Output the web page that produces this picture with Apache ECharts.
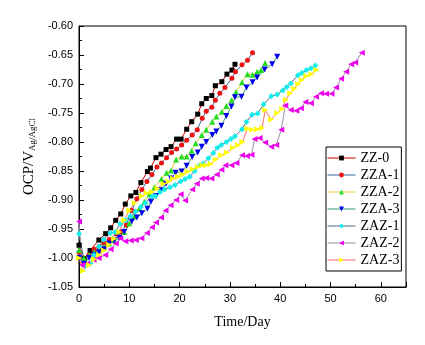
<!DOCTYPE html>
<html><head><meta charset="utf-8">
<script src="https://cdn.jsdelivr.net/npm/echarts@6/dist/echarts.min.js"></script>
<style>html,body{margin:0;padding:0;background:#fff}#c{width:425px;height:345px}</style>
</head><body><div id="c"></div>
<script>
const seriesNames = ['ZZ-0','ZZA-1','ZZA-2','ZZA-3','ZAZ-1','ZAZ-2','ZAZ-3'];
const yTicks = [-1.05,-1.00,-0.95,-0.90,-0.85,-0.80,-0.75,-0.70,-0.65,-0.60];
const xTicks = [0,10,20,30,40,50,60];

const zz0Days = [0,1.05,2.2,3.95,5.3,6.3,7.3,8.3,9.2,10.3,11.3,12.3,13.6,14.2,15.3,16.3,17.3,18.3,19.4,20.3,21.4,22.4,23.6,24.4,25.3,26.4,27.1,28.4,29.4,30.4,31.0];
const zz0Vals = [-0.978,-1.001,-0.987,-0.969,-0.958,-0.948,-0.935,-0.924,-0.907,-0.893,-0.887,-0.870,-0.851,-0.845,-0.827,-0.821,-0.813,-0.808,-0.795,-0.795,-0.778,-0.765,-0.752,-0.734,-0.725,-0.720,-0.703,-0.696,-0.683,-0.676,-0.666];

const zza1Days = [0,1,2,3,4,5,6,7.4,8.4,9.4,10.5,11.5,12.5,13.5,14.5,15.5,16.4,17.4,18.4,19.4,20.4,21.4,22.5,23.5,24.5,25.3,26.4,27.1,28,29,30.4,31.1,32.4,33.5,34.5];
const zza1Vals = [-0.990,-1.008,-0.995,-0.985,-0.980,-0.975,-0.968,-0.958,-0.955,-0.943,-0.918,-0.898,-0.882,-0.868,-0.856,-0.843,-0.836,-0.827,-0.818,-0.812,-0.805,-0.797,-0.788,-0.779,-0.759,-0.747,-0.740,-0.728,-0.716,-0.706,-0.690,-0.679,-0.667,-0.659,-0.646];

const zza2Days = [0,1,2,3,4,5,6,7,8,9,10,11,12,13,14,15,16.4,17.4,18.3,19.3,20.4,21.4,22.4,23.2,24.4,25.3,26.5,27.3,28.4,29.3,30.3,31.2,32.4,33.5,34.5,35.4,36.2,37];
const zza2Vals = [-0.986,-1.0,-0.995,-0.99,-0.985,-0.98,-0.975,-0.97,-0.963,-0.955,-0.94,-0.928,-0.915,-0.903,-0.89,-0.878,-0.864,-0.853,-0.849,-0.830,-0.825,-0.825,-0.815,-0.802,-0.788,-0.779,-0.765,-0.756,-0.748,-0.738,-0.728,-0.714,-0.697,-0.683,-0.684,-0.679,-0.676,-0.664];

const zza3Days = [0,1,2,3,4,5,6,7,8,9,10.5,11.5,12.5,13.6,14.3,15.3,16.2,17.3,18.3,19.2,20.4,21.4,22.5,23.6,24.4,25.3,26.5,27.3,28.3,29.3,30.3,31,32.3,33.3,34.5,35.4,36.9,38.4,39.4];
const zza3Vals = [-1.0,-1.01,-1.0,-0.995,-0.99,-0.985,-0.975,-0.97,-0.965,-0.955,-0.937,-0.93,-0.923,-0.915,-0.903,-0.893,-0.883,-0.872,-0.863,-0.853,-0.851,-0.841,-0.826,-0.818,-0.808,-0.800,-0.788,-0.782,-0.772,-0.755,-0.739,-0.723,-0.722,-0.706,-0.697,-0.689,-0.675,-0.666,-0.653];

const zaz1Days = [0,1.2,2.2,3,4,4.9,6.2,7.2,8.2,9.2,10.2,11.2,12.3,13.2,14.5,15.2,16.1,17,18.1,19.1,20.2,21.1,22,23,24,24.7,25.7,26.7,27.5,28.3,29.3,30.2,31,32.4,33.3,34.4,35.5,36.7,38.2,39.4,40.5,41.3,42.1,43.5,44.3,45.2,46.1,47];
const zaz1Vals = [-0.958,-1.014,-1.009,-0.995,-0.98,-0.968,-0.957,-0.955,-0.941,-0.935,-0.928,-0.92,-0.912,-0.905,-0.894,-0.893,-0.886,-0.882,-0.878,-0.874,-0.868,-0.864,-0.860,-0.85,-0.84,-0.837,-0.828,-0.819,-0.810,-0.805,-0.800,-0.795,-0.790,-0.778,-0.765,-0.753,-0.751,-0.735,-0.721,-0.718,-0.711,-0.705,-0.699,-0.685,-0.681,-0.676,-0.673,-0.668];

const zaz2Days = [0,0.6,1.6,2.9,3.9,5.2,6.3,7.3,8.2,9.2,10.3,11.3,12.4,13.5,14.5,15.3,16.3,17.2,18.2,19.3,20.2,21.1,22.5,23.4,24.4,25.3,26.3,27.4,28.3,29.1,30.3,31.3,32.4,33.4,34.3,34.9,35.9,37,38.2,39.2,40.2,41,42.1,43.2,44.1,45,46.1,47.1,48.1,49.1,50.2,51.1,52.1,53.1,54.1,54.9,56.2];
const zaz2Vals = [-0.937,-1.012,-1.01,-1.003,-1.0,-0.995,-0.985,-0.975,-0.966,-0.971,-0.970,-0.969,-0.966,-0.957,-0.947,-0.939,-0.930,-0.918,-0.909,-0.900,-0.890,-0.901,-0.882,-0.872,-0.863,-0.862,-0.863,-0.856,-0.848,-0.840,-0.840,-0.836,-0.823,-0.824,-0.822,-0.795,-0.793,-0.801,-0.808,-0.805,-0.779,-0.737,-0.745,-0.746,-0.742,-0.731,-0.733,-0.722,-0.716,-0.717,-0.717,-0.706,-0.691,-0.679,-0.666,-0.663,-0.646];

const zaz3Days = [0,0.8,2,3,4,5,6,7,8,9,10,11.1,12.5,13.5,14.5,15.6,16.8,17.8,18.7,19.7,20.6,21.6,22.6,23.6,24.5,25.3,26.2,27.2,28.3,29.4,30.6,31.6,32.5,33.5,34.4,35.4,36.4,37,38.2,39.4,40.4,41.1,42,42.8,43.6,44.3,45.2,46.2,47.2];
const zaz3Vals = [-1.0,-1.022,-1.012,-1.002,-0.995,-0.987,-0.977,-0.967,-0.955,-0.935,-0.918,-0.905,-0.893,-0.888,-0.886,-0.880,-0.872,-0.868,-0.863,-0.860,-0.856,-0.851,-0.847,-0.843,-0.840,-0.840,-0.838,-0.830,-0.823,-0.818,-0.810,-0.805,-0.800,-0.777,-0.779,-0.778,-0.776,-0.745,-0.761,-0.750,-0.743,-0.727,-0.716,-0.708,-0.700,-0.693,-0.686,-0.683,-0.676];

const allDays = [zz0Days,zza1Days,zza2Days,zza3Days,zaz1Days,zaz2Days,zaz3Days];
const allVals = [zz0Vals,zza1Vals,zza2Vals,zza3Vals,zaz1Vals,zaz2Vals,zaz3Vals];

const lineColors = ['#cc0000','#336699','#e8c840','#2e9e6e','#556688','#9a8ea8','#ff6b6b'];
const markColors = ['#000000','#ee1111','#22dd22','#0000ee','#11eeee','#ee00ee','#ffff00'];
const symbols = ['rect','circle','triangle','triangle','diamond','triangle','triangle'];
const rotates = [0,0,0,180,0,90,-90];
const sizes = [5,5,6,6,6,6,6];

const chart = echarts.init(document.getElementById('c'), null, {renderer:'canvas'});
const series = seriesNames.map((n,i)=>({
  name:n, type:'line',
  data: allDays[i].map((d,j)=>[d, allVals[i][j]]),
  symbol:symbols[i], symbolRotate:rotates[i], symbolSize:sizes[i],
  showAllSymbol:true,
  lineStyle:{color:lineColors[i], width:1},
  itemStyle:{color:markColors[i]},
  emphasis:{disabled:true},
  animation:false
}));
const axisCommon = {
  axisLine:{show:true,onZero:false,lineStyle:{color:'#000',width:1}},
  axisTick:{show:true,inside:true,length:5,lineStyle:{color:'#000'}},
  minorTick:{show:true,splitNumber:2,length:3,lineStyle:{color:'#000'}},
  splitLine:{show:false}
};
chart.setOption({
  animation:false,
  backgroundColor:'#fff',
  grid:{left:79,right:19,top:26,bottom:58,show:true,borderColor:'#000',borderWidth:1,backgroundColor:'transparent'},
  xAxis:Object.assign({type:'value',min:xTicks[0],max:65,interval:10,
    name:'Time/Day',nameLocation:'middle',nameGap:28,
    nameTextStyle:{fontFamily:'Liberation Serif',fontSize:14,color:'#000'}}, axisCommon,
    {axisLabel:{color:'#000',fontFamily:'Liberation Sans',fontSize:11,margin:6,showMaxLabel:false}}),
  yAxis:Object.assign({type:'value',min:yTicks[0],max:yTicks[yTicks.length-1],interval:0.05,
    name:'{a|OCP/V}{b|Ag/AgCl}',nameLocation:'middle',nameGap:42,nameRotate:90,
    nameTextStyle:{color:'#000',rich:{
      a:{fontFamily:'Liberation Serif',fontSize:15,color:'#000',verticalAlign:'top',lineHeight:15},
      b:{fontFamily:'Liberation Serif',fontSize:9,color:'#000',verticalAlign:'bottom',lineHeight:9,padding:[10,0,0,0]}
    }}}, axisCommon,
    {axisLabel:{color:'#000',fontFamily:'Liberation Sans',fontSize:11,margin:6,formatter:v=>v.toFixed(2)}}),
  legend:{
    orient:'vertical',left:326,top:147,
    backgroundColor:'#fff',borderColor:'#000',borderWidth:1,
    padding:[3,2,3,1],itemGap:1,itemWidth:28,itemHeight:6,
    lineStyle:{width:1},
    textStyle:{fontFamily:'Liberation Serif',fontSize:14,color:'#000',lineHeight:16},
    data:seriesNames
  },
  series:series
});
</script></body></html>
